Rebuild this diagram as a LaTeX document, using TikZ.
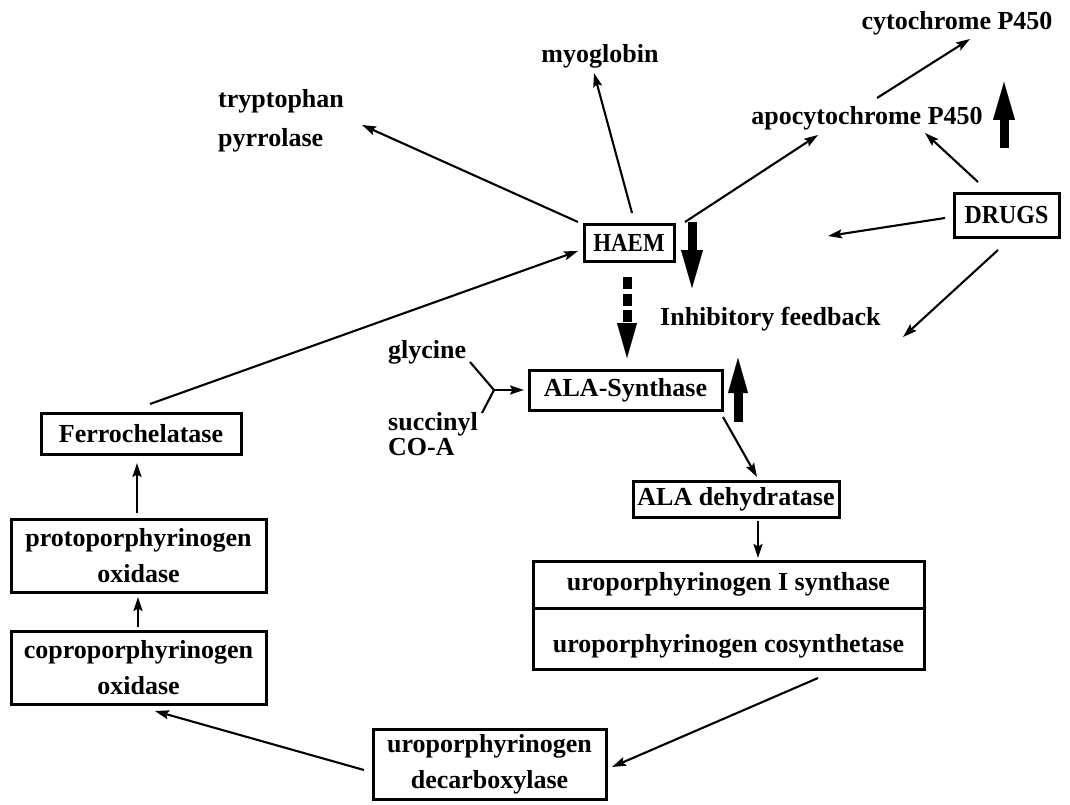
\documentclass[tikz,border=0pt]{standalone}
\usepackage{fontspec}
\setmainfont{Liberation Serif}
\usetikzlibrary{arrows.meta,calc}
\newcommand\lblfont{\fontsize{26}{36}\selectfont\bfseries}
\tikzset{
  box/.style={draw, line width=3pt, inner sep=0pt, align=center, font=\lblfont},
  lbl/.style={inner sep=0pt, font=\lblfont},
  ln/.style={line width=2.1pt},
  arr/.style={line width=2.1pt, -{Stealth[length=14pt,width=9pt,inset=2.5pt]}},
  bigarr/.style={line width=9pt, -{Triangle[length=38pt,width=22pt,line width=0.1pt]}},
  bigarrb/.style={line width=9pt, -{Triangle[length=35pt,width=20pt,line width=0.1pt]}},
}
\begin{document}
\begin{tikzpicture}[x=1pt,y=-1pt]
\useasboundingbox (0,0) rectangle (1070,805);

% boxes
\node[box, minimum width=90,  minimum height=37] (haem)   at (629,242.5) {\scalebox{0.88}[1]{HAEM}};
\node[box, minimum width=105, minimum height=43] (drugs)  at (1006.5,215.5) {\scalebox{0.92}[1]{DRUGS}};
\node[box, minimum width=193, minimum height=40] (alas)   at (625.5,390) {ALA-Synthase};
\node[box, minimum width=206, minimum height=36] (alad)   at (736,499) {ALA dehydratase};
\node[box, minimum width=391, minimum height=47] (uro1)   at (728.5,584.5) {uroporphyrinogen I synthase};
\node[box, minimum width=391, minimum height=61, text height=27pt, text depth=0pt] (uro2) at (728.5,638.5) {uroporphyrinogen cosynthetase};
\node[box, minimum width=233, minimum height=70] (decarb) at (489.5,764) {uroporphyrinogen\\decarboxylase};
\node[box, minimum width=200, minimum height=41] (ferro)  at (141,433.5) {Ferrochelatase};
\node[box, minimum width=255, minimum height=73] (proto)  at (138.5,555.5) {protoporphyrinogen\\oxidase};
\node[box, minimum width=255, minimum height=73] (copro)  at (138.5,667.5) {coproporphyrinogen\\oxidase};

% plain labels
\node[lbl, anchor=base] (cyt) at (957,30) {cytochrome P450};
\node[lbl, anchor=base] (apo) at (867,125) {apocytochrome P450};
\node[lbl, anchor=base] (myo) at (600,63) {myoglobin};
\node[lbl, anchor=base west] (tryp1) at (218,108) {tryptophan};
\node[lbl, anchor=base west] (tryp2) at (218,147) {pyrrolase};
\node[lbl, anchor=base west] (inh) at (660,325) {Inhibitory feedback};
\node[lbl, anchor=base west] (gly) at (388,358) {glycine};
\node[lbl, anchor=base west] (succ) at (388,430) {succinyl};
\node[lbl, anchor=base west] (coa) at (388,455) {CO-A};

% free ends
\coordinate (d1) at (828,236);
\coordinate (d2) at (903,337);
\coordinate (j) at ($(alas.center)+(-131.5,0)$);

% connectors from HAEM
\draw[arr] ($(haem.center)+(-51,-20.5)$) -- ($(tryp1.base west)+(144,17)$);
\draw[arr] ($(haem.center)+(3,-29.5)$) -- ($(myo.base)+(-6,10)$);
\draw[arr] ($(haem.center)+(56,-20.5)$) -- ($(apo.base)+(-49,10)$);
\draw[arr] ($(apo.base)+(10,-27)$) -- ($(cyt.base)+(13,9)$);

% DRUGS
\draw[arr] ($(drugs.center)+(-28.5,-33.5)$) -- ($(apo.base)+(58,8)$);
\draw[arr] ($(drugs.center)+(-61.5,2.5)$) -- (d1);
\draw[arr] ($(drugs.center)+(-8.5,34.5)$) -- (d2);

% pathway
\draw[ln] ($(gly.base west)+(82,4)$) -- (j);
\draw[ln] ($(succ.base west)+(94,-17)$) -- (j);
\draw[arr] (j) -- ($(alas.center)+(-101.5,0)$);
\draw[arr] ($(alas.center)+(97.5,27)$) -- ($(alad.center)+(21,-22)$);
\draw[arr] ($(alad.center)+(22,22)$) -- ($(uro1.center)+(29.5,-26.5)$);
\draw[arr] ($(uro2.center)+(89.5,39.5)$) -- ($(decarb.center)+(122.5,3)$);
\draw[arr] ($(decarb.center)+(-125.5,6)$) -- ($(copro.center)+(16.5,43.5)$);
\draw[arr] ($(copro.center)+(-0.5,-40.5)$) -- ($(proto.center)+(-0.5,41.5)$);
\draw[arr] ($(proto.center)+(-1.5,-42.5)$) -- ($(ferro.center)+(-4,29.5)$);
\draw[arr] ($(ferro.center)+(9,-29.5)$) -- ($(haem.center)+(-51,8.5)$);

% dashed thick inhibitory arrow HAEM -> ALA-Synthase
\draw[bigarrb, dash pattern=on 12pt off 4.5pt] ($(haem.center)+(-2,34.5)$) -- ($(alas.center)+(1.5,-32)$);

% thick standalone arrows
\draw[bigarr] (692,222) -- (692,288);
\draw[bigarr] (1004,148) -- (1004,82);
\draw[bigarrb] (738,422) -- (738,358);
\end{tikzpicture}
\end{document}
